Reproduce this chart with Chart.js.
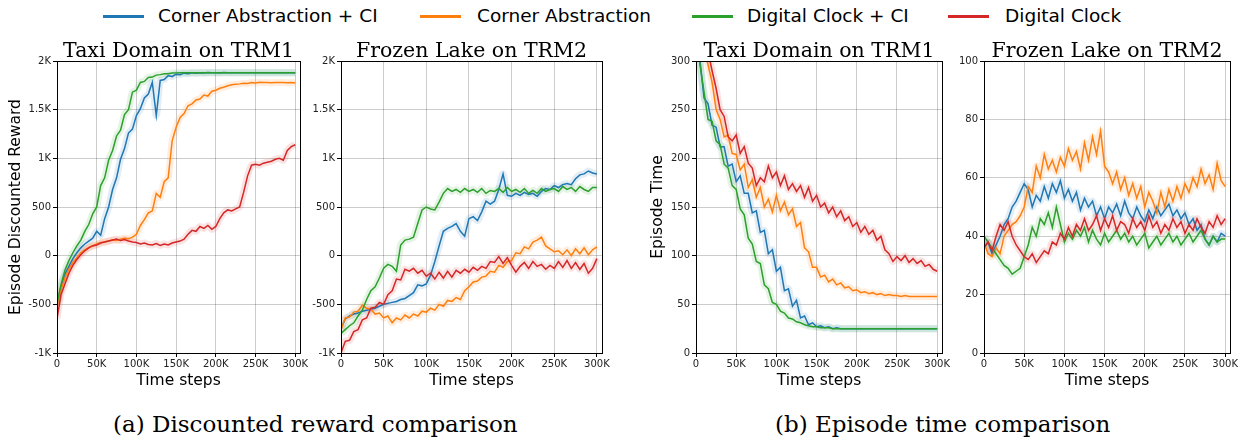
<!DOCTYPE html>
<html>
<head>
<meta charset="utf-8">
<script src="https://cdn.jsdelivr.net/npm/chart.js@4.4.0/dist/chart.umd.min.js"></script>
<style>
  body { margin: 0; width: 1247px; height: 443px; background: #fff; position: relative; overflow: hidden; font-family: "DejaVu Sans"; }
  canvas { position: absolute; top: 0; }
  .leg { position: absolute; top: 4px; height: 24px; line-height: 24px; font-size: 18.5px; color: #000; white-space: nowrap; }
  .leg i { position: absolute; left: 0; top: 11px; width: 41px; height: 3px; }
  .ttl { position: absolute; top: 38px; font-family: "DejaVu Serif"; font-size: 20.5px; line-height: 24px; text-align: center; white-space: nowrap; color: #000; }
  .cap { position: absolute; top: 409px; font-family: "DejaVu Serif"; font-size: 23px; line-height: 30px; white-space: nowrap; color: #000; }
</style>
</head>
<body>
<div id="legend"></div>
<canvas id="p1" width="310" height="400" style="left:0px"></canvas>
<canvas id="p2" width="312" height="400" style="left:300px"></canvas>
<canvas id="p3" width="307" height="400" style="left:645px"></canvas>
<canvas id="p4" width="290" height="400" style="left:950px"></canvas>
<div class="ttl" style="left:57px;width:243px">Taxi Domain on TRM1</div>
<div class="ttl" style="left:341px;width:261px">Frozen Lake on TRM2</div>
<div class="ttl" style="left:696px;width:246px">Taxi Domain on TRM1</div>
<div class="ttl" style="left:984px;width:246px">Frozen Lake on TRM2</div>
<div class="cap" style="left:113px">(a) Discounted reward comparison</div>
<div class="cap" style="left:775px">(b) Episode time comparison</div>
<script>
// time steps in thousands
const steps = [0,5,10,15,20,25,30,35,40,45,50,55,60,65,70,75,80,85,90,95,100,105,110,115,120,125,130,135,140,145,150,155,160,165,170,175,180,185,190,195,200,205,210,215,220,225,230,235,240,245,250,255,260,265,270,275,280,285,290,295,300];
const xTicks = [0, 50000, 100000, 150000, 200000, 250000, 300000];

const names = ['Corner Abstraction + CI', 'Corner Abstraction', 'Digital Clock + CI', 'Digital Clock'];
const colors = ['#1f77b4', '#ff7f0e', '#2ca02c', '#d62728'];

// (a) Taxi domain, discounted reward
const taxiRewardCACI = [-500,-320,-190,-110,-30,30,80,120,150,180, 250,210,380,500,680,800,990,1100,1260,1300, 1440,1510,1620,1660,1780,1440,1800,1810,1850,1840, 1865,1860,1875,1868,1880,1874,1880,1876,1882,1880, 1880,1878,1882,1880,1880,1880,1880,1880,1880,1880, 1880,1880,1880,1880,1880,1880,1880,1880,1880,1880,1880];
const taxiRewardCA = [-520,-350,-230,-140,-70,-20,30,60,85,105, 120,135,140,150,160,155,170,180,175,190, 220,310,370,440,460,640,600,760,800,1180, 1320,1420,1460,1540,1560,1600,1610,1650,1640,1690, 1700,1720,1730,1745,1755,1760,1765,1772,1768,1780, 1775,1782,1778,1780,1776,1780,1778,1780,1776,1778,1775];
const taxiRewardDCCI = [-490,-300,-150,-50,30,100,160,250,320,430, 500,720,800,980,1080,1230,1290,1450,1500,1680, 1700,1780,1790,1830,1835,1855,1860,1870,1868,1876, 1878,1880,1880,1880,1880,1880,1880,1880,1880,1880, 1880,1880,1880,1880,1880,1880,1880,1880,1880,1880, 1880,1880,1880,1880,1880,1880,1880,1880,1880,1880,1880];
const taxiRewardDC = [-650,-400,-290,-180,-100,-40,10,50,80,100, 110,130,140,150,160,170,155,165,150,140, 135,120,130,115,110,125,105,120,110,130, 140,150,170,220,260,250,300,280,310,270, 300,380,440,470,460,480,500,650,820,930, 940,930,950,960,970,990,1000,980,1080,1120,1140];

// (a) Frozen lake, discounted reward
const lakeRewardCACI = [-750,-650,-620,-600,-590,-570,-560,-550,-540,-520, -500,-490,-480,-470,-450,-440,-410,-380,-300,-310, -290,-200,-60,100,250,280,300,330,250,200, 380,400,360,450,560,530,560,680,840,620, 610,640,620,650,630,640,610,660,690,680, 720,700,730,740,730,790,830,840,870,850,840];
const lakeRewardCA = [-760,-640,-630,-580,-570,-510,-540,-550,-600,-590, -640,-620,-690,-640,-660,-610,-640,-600,-620,-570, -580,-540,-560,-500,-520,-460,-470,-430,-450,-360, -320,-270,-260,-220,-210,-160,-170,-100,-120,-60, -50,30,20,90,70,140,160,190,100,70, 40,50,10,60,0,70,20,80,10,60,90];
const lakeRewardDCCI = [-800,-760,-720,-690,-620,-560,-450,-360,-320,-230, -130,-90,-110,-160,110,160,170,190,330,470, 500,480,470,550,640,690,660,680,650,690, 660,680,650,690,640,670,660,690,650,700, 660,680,650,690,640,670,640,690,660,680, 690,660,710,680,700,660,710,680,660,700,700];
const lakeRewardDC = [-1000,-880,-870,-780,-760,-660,-640,-540,-530,-480, -500,-400,-360,-240,-250,-140,-160,-130,-180,-150, -210,-180,-240,-170,-230,-160,-220,-150,-180,-140, -170,-120,-150,-110,-130,-60,-70,-10,-80,-20, -100,-170,-110,-70,-130,-60,-110,-90,-140,-100, -130,-60,-120,-50,-130,-70,-140,-80,-180,-130,-30];

// (b) Taxi domain, episode time
const taxiTimeCACI = [340,300,262,256,234,232,212,212,192,194, 176,182,164,164,144,146,124,126,102,106, 84,88,64,66,48,54,36,38,29,31, 27,28,26,27,25,26,25,25,25,25, 25,25,25,25,25,25,25,25,25,25, 25,25,25,25,25,25,25,25,25,25,25];
const taxiTimeCA = [350,330,312,296,278,250,240,222,224,205, 204,188,194,170,178,160,170,150,158,145, 162,146,155,142,148,130,134,108,104,88, 88,78,80,73,76,70,72,67,68,64, 65,62,63,61,62,60,61,59,60,59, 59,58,59,58,58,58,58,58,58,58,58];
const taxiTimeDCCI = [340,296,268,240,238,218,214,194,190,172, 168,148,142,118,112,94,92,70,66,52, 50,43,41,36,35,32,31,29,28,27, 27,26,26,26,25,25,25,25,25,25, 25,25,25,25,25,25,25,25,25,25, 25,25,25,25,25,25,25,25,25,25,25];
const taxiTimeDC = [360,340,325,310,290,272,250,243,222,218, 224,205,212,195,190,172,180,176,192,180, 186,172,182,168,174,166,172,160,170,156, 162,150,154,144,150,140,146,136,140,130, 134,124,130,122,126,116,120,106,102,94, 99,95,100,93,97,92,95,89,91,86,84];

// (b) Frozen lake, episode time
const lakeTimeCACI = [36,38,34,37,40,44,46,50,52,55, 58,56,50,54,52,57,53,58,55,59, 53,56,52,55,49,53,50,52,47,50, 46,50,48,51,47,52,48,46,50,47, 45,49,46,50,47,49,51,47,49,46, 48,44,46,42,44,39,37,40,38,41,40];
const lakeTimeCA = [38,34,33,36,34,40,42,44,45,47, 50,57,55,64,60,68,63,66,62,67, 64,70,66,69,63,72,66,74,68,76, 64,62,58,62,56,60,54,58,53,57, 50,55,52,48,55,50,56,52,57,53, 58,55,60,57,63,58,61,56,65,59,57];
const lakeTimeDCCI = [40,38,36,34,32,30,29,27,28,29, 33,37,43,40,46,44,48,43,50,44, 38,41,39,42,40,43,38,42,39,37, 41,38,40,42,39,41,38,40,37,39, 41,36,38,40,37,39,41,38,40,37, 39,41,38,40,42,39,37,40,38,39,39];
const lakeTimeDC = [36,38,35,40,44,42,45,40,37,35, 33,32,34,31,33,35,34,38,37,41, 39,43,40,44,42,46,42,44,47,42, 46,43,47,42,45,44,41,46,43,45, 42,47,43,45,41,44,42,46,43,45, 41,44,42,46,43,41,45,43,47,44,46];

// legend
const legendPos = [[103, 55], [420, 57], [692, 55], [948, 57]];
const legend = document.getElementById('legend');
names.forEach((n, i) => {
  const d = document.createElement('div');
  d.className = 'leg';
  d.style.left = legendPos[i][0] + 'px';
  d.style.paddingLeft = legendPos[i][1] + 'px';
  d.innerHTML = `<i style="background:${colors[i]}"></i>${n}`;
  legend.appendChild(d);
});

function fade(hex, a) {
  const v = parseInt(hex.slice(1), 16);
  return `rgba(${v >> 16},${(v >> 8) & 255},${v & 255},${a})`;
}

const kFmt = v => v === 0 ? '0' : (Math.abs(v) >= 1000 ? (v / 1000) + 'K' : String(v));

const frame = {
  id: 'frame',
  afterDatasetsDraw(chart) {
    const { ctx, chartArea: a } = chart;
    ctx.save();
    ctx.strokeStyle = '#000';
    ctx.lineWidth = 1;
    ctx.strokeRect(Math.round(a.left) + 0.5, Math.round(a.top) + 0.5, Math.round(a.right - a.left), Math.round(a.bottom - a.top));
    ctx.restore();
  }
};

function makePanel(id, series, yMin, yMax, yStep, yW, yTitle, yTitlePad) {
  const datasets = [];
  // matplotlib draws red last (on top); chart.js puts index 0 on top
  for (let i = series.length - 1; i >= 0; i--) {
    datasets.push({
      data: steps.map((s, j) => ({ x: s * 1000, y: series[i][j] })),
      borderColor: colors[i], borderWidth: 1.5, pointRadius: 0, tension: 0
    });
  }
  for (let i = series.length - 1; i >= 0; i--) {
    datasets.push({
      data: steps.map((s, j) => ({ x: s * 1000, y: series[i][j] })),
      borderColor: fade(colors[i], 0.13), borderWidth: 7, pointRadius: 0, tension: 0.3
    });
  }
  const tickFont = { family: 'DejaVu Sans', size: 10 };
  new Chart(document.getElementById(id), {
    type: 'line',
    data: { datasets },
    plugins: [frame],
    options: {
      responsive: false,
      animation: false,
      events: [],
      layout: { padding: { top: 61, right: 10, left: 0, bottom: 0 } },
      plugins: { legend: { display: false }, tooltip: { enabled: false } },
      scales: {
        x: {
          type: 'linear', min: 0, max: 306000,
          afterBuildTicks: s => { s.ticks = xTicks.map(v => ({ value: v })); },
          afterFit: s => { s.height = 47; },
          ticks: { callback: kFmt, font: tickFont, color: '#222', padding: 1, maxRotation: 0, autoSkip: false },
          grid: { color: 'rgba(0,0,0,0.2)', tickColor: '#000', tickLength: 4 },
          border: { color: '#000' },
          title: { display: true, text: 'Time steps', font: { family: 'DejaVu Sans', size: 15.5 }, color: '#000', padding: { top: 0, bottom: 10 } }
        },
        y: {
          min: yMin, max: yMax,
          afterFit: s => { s.width = yW; },
          ticks: { stepSize: yStep, callback: kFmt, font: tickFont, color: '#222', padding: 2 },
          grid: { color: 'rgba(0,0,0,0.2)', tickColor: '#000', tickLength: 4 },
          border: { color: '#000' },
          title: { display: !!yTitle, text: yTitle || '', font: { family: 'DejaVu Sans', size: 15.5 }, color: '#000', padding: { top: yTitlePad, bottom: 0 } }
        }
      }
    }
  });
}

makePanel('p1', [taxiRewardCACI, taxiRewardCA, taxiRewardDCCI, taxiRewardDC], -1000, 2000, 500, 57, 'Episode Discounted Reward', 7);
makePanel('p2', [lakeRewardCACI, lakeRewardCA, lakeRewardDCCI, lakeRewardDC], -1000, 2000, 500, 41, '', 0);
makePanel('p3', [taxiTimeCACI, taxiTimeCA, taxiTimeDCCI, taxiTimeDC], 0, 300, 50, 51, 'Episode Time', 4);
makePanel('p4', [lakeTimeCACI, lakeTimeCA, lakeTimeDCCI, lakeTimeDC], 0, 100, 20, 34, '', 0);
</script>
</body>
</html>
